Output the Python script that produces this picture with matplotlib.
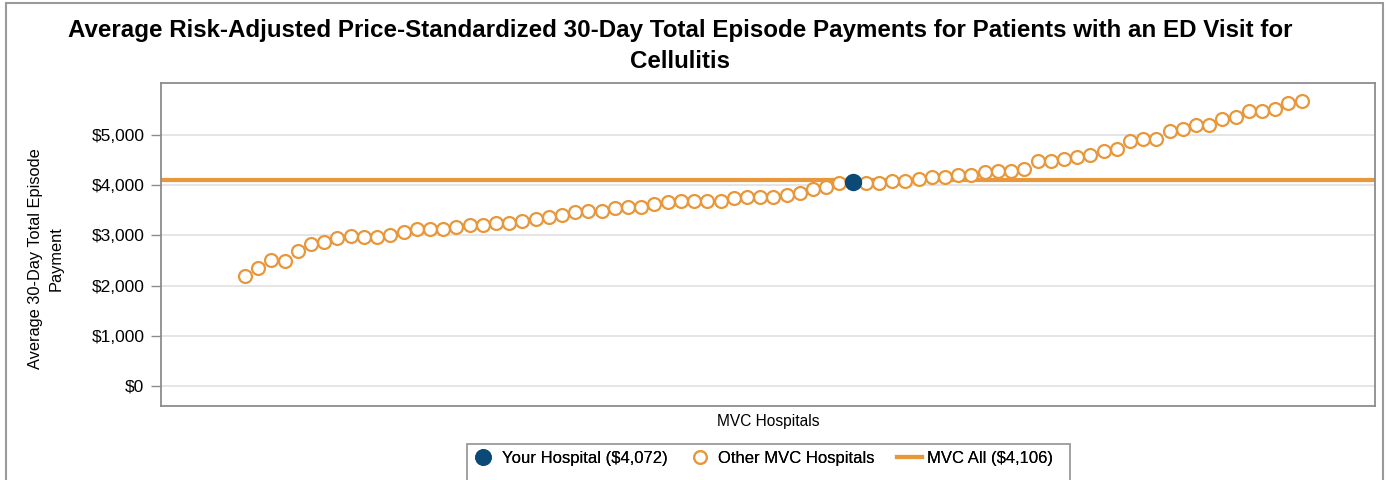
#!/usr/bin/env python3
"""Average risk-adjusted 30-day episode payments, cellulitis ED visits."""

import matplotlib
matplotlib.use("Agg")
import matplotlib.pyplot as plt
from matplotlib.lines import Line2D
from matplotlib.patches import Rectangle
from matplotlib.ticker import FuncFormatter

plt.rcParams['font.family'] = ['Liberation Sans', 'DejaVu Sans']

# hospitals sorted by payment; slot 46 (0-based) is "your hospital"
other_payments = [
    2190, 2350, 2510, 2490, 2690, 2830, 2870, 2950, 2990, 2970,
    2970, 3010, 3070, 3130, 3130, 3130, 3170, 3210, 3210, 3250,
    3250, 3290, 3330, 3370, 3410, 3470, 3490, 3490, 3550, 3570,
    3570, 3630, 3670, 3690, 3690, 3690, 3690, 3750, 3770, 3770,
    3770, 3810, 3840, 3920, 3960, 4040,
    4040, 4040, 4090, 4090, 4130, 4170, 4170, 4210, 4210, 4260,
    4290, 4290, 4330, 4480, 4480, 4520, 4560, 4600, 4680, 4720,
    4880, 4920, 4920, 5080, 5120, 5200, 5200, 5320, 5360, 5480,
    5480, 5520, 5640, 5680,
]
your_index = 46
your_payment = 4072
mvc_all = 4106
y_ticks = [0, 1000, 2000, 3000, 4000, 5000]

ORANGE = '#E8973A'
NAVY = '#0B4A76'
W, H = 1388, 480

# x positions for other hospitals, skipping your hospital's slot
other_x = [i if i < your_index else i + 1 for i in range(len(other_payments))]

fig = plt.figure(figsize=(W / 100, H / 100), dpi=100)
ax = fig.add_axes([161 / W, 1 - 406 / H, (1375 - 161) / W, (406 - 83) / H])

ax.axhline(mvc_all, color=ORANGE, linewidth=3, zorder=2)
ax.plot(other_x, other_payments, linestyle='none', marker='o', markersize=9.3,
        markerfacecolor='white', markeredgecolor=ORANGE, markeredgewidth=1.6, zorder=3)
ax.plot([your_index], [your_payment], linestyle='none', marker='o', markersize=11.5,
        color=NAVY, zorder=4)

ax.set_xlim(-6.36, 85.55)
ax.set_ylim(-400, 6040)
ax.set_yticks(y_ticks)
ax.yaxis.set_major_formatter(FuncFormatter(lambda v, p: f'${v:,.0f}'))
ax.set_xticks([])
ax.grid(True, axis='y', color='#e3e3e3', linewidth=1.3, zorder=0)
ax.set_axisbelow(True)
ax.tick_params(axis='y', length=7, width=1, color='#8c8c8c', pad=5, labelsize=12.5)
for s in ax.spines.values():
    s.set_color('#8c8c8c')
    s.set_linewidth(1.3)

ax.set_xlabel('MVC Hospitals', fontsize=11.2, labelpad=6)
ax.set_ylabel('Average 30-Day Total Episode\nPayment', fontsize=11.8, linespacing=1.5)
ax.yaxis.set_label_coords((64 - 161) / 1214, 0.455)

fig.suptitle('Average Risk-Adjusted Price-Standardized 30-Day Total Episode Payments for Patients with an ED Visit for\nCellulitis',
             fontsize=17.4, fontweight='bold', x=680 / W, y=1 - 19 / H, va='top', linespacing=1.45)

# outer frame and legend box
fig.patches.append(Rectangle((6 / W, -0.1), (1383 - 6) / W, 1.1 - 3 / H,
                             transform=fig.transFigure, fill=False, edgecolor='#9a9a9a', linewidth=1.5))
fig.patches.append(Rectangle((467 / W, -0.1), (1070 - 467) / W, 0.1 + 1 - 444 / H,
                             transform=fig.transFigure, fill=False, edgecolor='#9a9a9a', linewidth=1.3))

# legend entries, one small legend each so spacing follows the reference
entries = [
    (Line2D([], [], linestyle='none', marker='o', markersize=11, color=NAVY),
     f'Your Hospital (${your_payment:,})', 473, 1.2, 0.55),
    (Line2D([], [], linestyle='none', marker='o', markersize=9, markerfacecolor='white',
            markeredgecolor=ORANGE, markeredgewidth=1.6),
     'Other MVC Hospitals', 690, 1.2, 0.5),
    (Line2D([], [], color=ORANGE, linewidth=3),
     f'MVC All (${mvc_all:,})', 897, 1.5, 0.3),
]
for handle, label, x0, hlen, pad in entries:
    leg = fig.legend([handle], [label], loc='center left', bbox_to_anchor=(x0 / W, 1 - 458 / H),
                     frameon=False, fontsize=12, handlelength=hlen, handletextpad=pad,
                     borderpad=0, borderaxespad=0)
    fig.add_artist(leg)

fig.savefig('out.png', dpi=100)
